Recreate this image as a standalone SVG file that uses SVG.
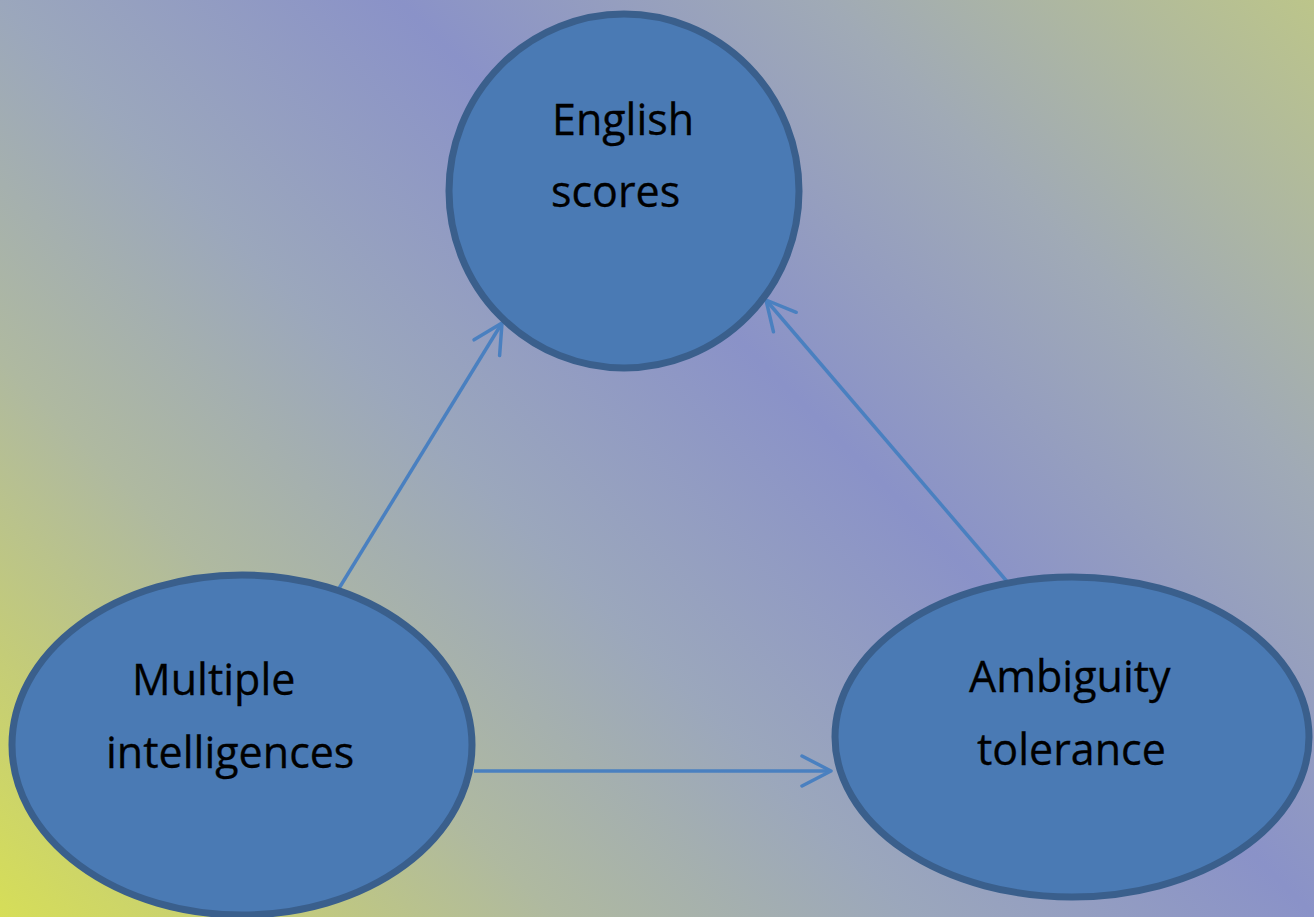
<svg xmlns="http://www.w3.org/2000/svg" width="1314" height="917" viewBox="0 0 1314 917">
<defs>
<linearGradient id="bg" gradientUnits="userSpaceOnUse" x1="0" y1="917" x2="1115.5" y2="-198.5">
<stop offset="0" stop-color="#d6de58"/>
<stop offset="0.12" stop-color="#c4cc78"/>
<stop offset="0.25" stop-color="#afb9a0"/>
<stop offset="0.41" stop-color="#9ba7bc"/>
<stop offset="0.59" stop-color="#8a92c8"/>
<stop offset="0.78" stop-color="#a0aab6"/>
<stop offset="1" stop-color="#bcc58a"/>
</linearGradient>
<marker id="arr" markerUnits="userSpaceOnUse" markerWidth="40" markerHeight="40" viewBox="-35 -20 40 40" refX="0" refY="0" orient="auto">
<path d="M-29,-15 L0,0 L-29,15" fill="none" stroke="#4a80c0" stroke-width="3.5" stroke-linecap="round" stroke-linejoin="round"/>
</marker>
<style>
.node{fill:#4a7ab4;stroke:#3a5f8c;stroke-width:7}
.lbl{font-family:"Open Sans","Noto Sans","Liberation Sans",sans-serif;font-size:43px;fill:#000;stroke:#000;stroke-width:0.3}
.conn{stroke:#4a80c0;stroke-width:3.5;fill:none;marker-end:url(#arr)}
</style>
</defs>
<rect x="0" y="0" width="1314" height="917" fill="url(#bg)"/>
<g id="connectors">
<line class="conn" x1="338" y1="590" x2="502" y2="323"/>
<line class="conn" x1="1010" y1="585" x2="766" y2="300"/>
<line class="conn" x1="474" y1="771" x2="831" y2="771"/>
</g>
<g id="node-english">
<ellipse class="node" cx="624" cy="191" rx="175" ry="177"/>
<text class="lbl" x="552" y="135">English</text>
<text class="lbl" x="551" y="207">scores</text>
</g>
<g id="node-multiple">
<ellipse class="node" cx="242" cy="745" rx="230" ry="170"/>
<text class="lbl" x="132" y="695">Multiple</text>
<text class="lbl" x="106" y="768">intelligences</text>
</g>
<g id="node-ambiguity">
<ellipse class="node" cx="1072" cy="737" rx="237" ry="160"/>
<text class="lbl" x="969" y="692">Ambiguity</text>
<text class="lbl" x="977" y="765">tolerance</text>
</g>
</svg>
